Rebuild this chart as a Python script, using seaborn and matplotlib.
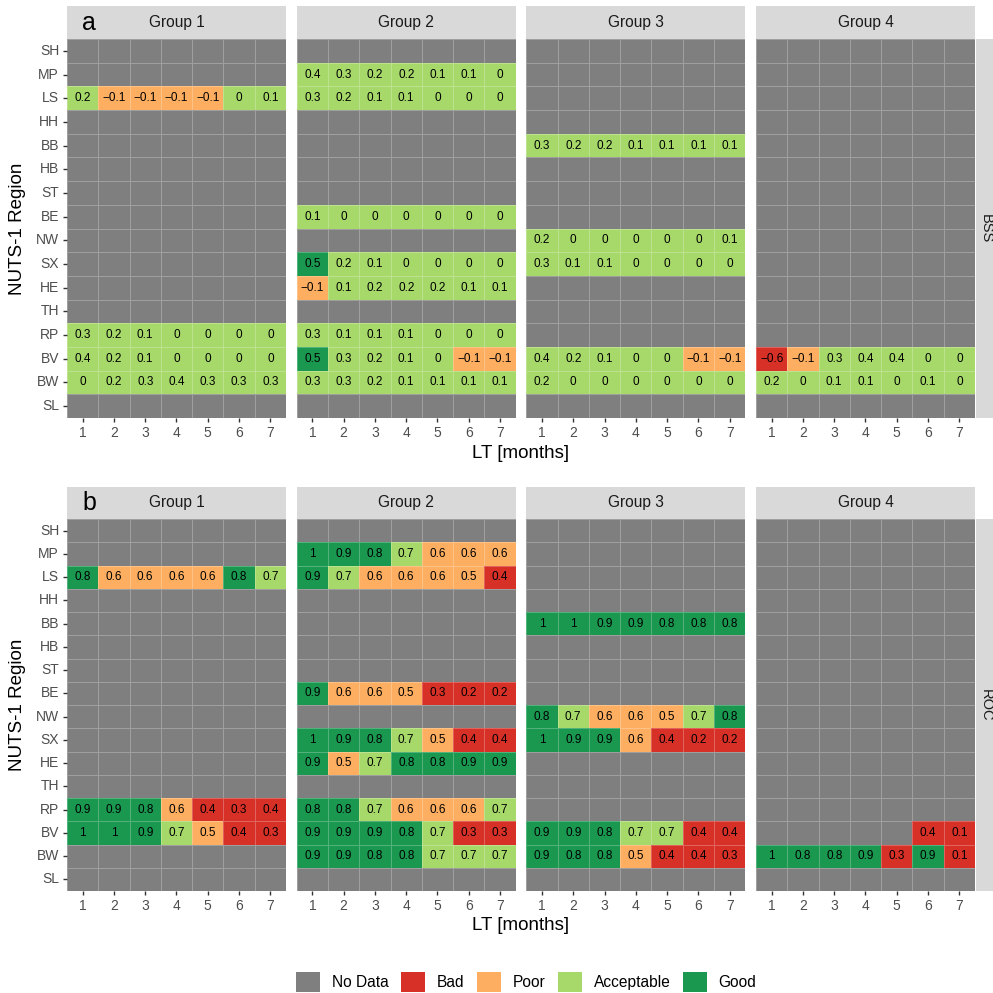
import numpy as np
import pandas as pd
import matplotlib
matplotlib.use("Agg")
import matplotlib.pyplot as plt
from matplotlib.colors import ListedColormap
from matplotlib.patches import Patch
import seaborn as sns

# ---------------- data ----------------
regions = ["SH", "MP", "LS", "HH", "BB", "HB", "ST", "BE", "NW", "SX", "HE", "TH", "RP", "BV", "BW", "SL"]
lead_times = [1, 2, 3, 4, 5, 6, 7]
groups = ["Group 1", "Group 2", "Group 3", "Group 4"]
metrics = ["BSS", "ROC"]
panel_tags = ["a", "b"]
categories = ["No Data", "Bad", "Poor", "Acceptable", "Good"]
cat_colors = ["#7F7F7F", "#D73027", "#FDAE61", "#A6D96A", "#1A9850"]
nan = np.nan

bss_group1 = {
    "LS": [0.2, -0.1, -0.1, -0.1, -0.1, 0, 0.1],
    "RP": [0.3, 0.2, 0.1, 0, 0, 0, 0],
    "BV": [0.4, 0.2, 0.1, 0, 0, 0, 0],
    "BW": [0, 0.2, 0.3, 0.4, 0.3, 0.3, 0.3],
}
bss_group2 = {
    "MP": [0.4, 0.3, 0.2, 0.2, 0.1, 0.1, 0],
    "LS": [0.3, 0.2, 0.1, 0.1, 0, 0, 0],
    "BE": [0.1, 0, 0, 0, 0, 0, 0],
    "SX": [0.5, 0.2, 0.1, 0, 0, 0, 0],
    "HE": [-0.1, 0.1, 0.2, 0.2, 0.2, 0.1, 0.1],
    "RP": [0.3, 0.1, 0.1, 0.1, 0, 0, 0],
    "BV": [0.5, 0.3, 0.2, 0.1, 0, -0.1, -0.1],
    "BW": [0.3, 0.3, 0.2, 0.1, 0.1, 0.1, 0.1],
}
bss_group3 = {
    "BB": [0.3, 0.2, 0.2, 0.1, 0.1, 0.1, 0.1],
    "NW": [0.2, 0, 0, 0, 0, 0, 0.1],
    "SX": [0.3, 0.1, 0.1, 0, 0, 0, 0],
    "BV": [0.4, 0.2, 0.1, 0, 0, -0.1, -0.1],
    "BW": [0.2, 0, 0, 0, 0, 0, 0],
}
bss_group4 = {
    "BV": [-0.6, -0.1, 0.3, 0.4, 0.4, 0, 0],
    "BW": [0.2, 0, 0.1, 0.1, 0, 0.1, 0],
}
roc_group1 = {
    "LS": [0.8, 0.6, 0.6, 0.6, 0.6, 0.8, 0.7],
    "RP": [0.9, 0.9, 0.8, 0.6, 0.4, 0.3, 0.4],
    "BV": [1, 1, 0.9, 0.7, 0.5, 0.4, 0.3],
}
roc_group2 = {
    "MP": [1, 0.9, 0.8, 0.7, 0.6, 0.6, 0.6],
    "LS": [0.9, 0.7, 0.6, 0.6, 0.6, 0.5, 0.4],
    "BE": [0.9, 0.6, 0.6, 0.5, 0.3, 0.2, 0.2],
    "SX": [1, 0.9, 0.8, 0.7, 0.5, 0.4, 0.4],
    "HE": [0.9, 0.5, 0.7, 0.8, 0.8, 0.9, 0.9],
    "RP": [0.8, 0.8, 0.7, 0.6, 0.6, 0.6, 0.7],
    "BV": [0.9, 0.9, 0.9, 0.8, 0.7, 0.3, 0.3],
    "BW": [0.9, 0.9, 0.8, 0.8, 0.7, 0.7, 0.7],
}
roc_group3 = {
    "BB": [1, 1, 0.9, 0.9, 0.8, 0.8, 0.8],
    "NW": [0.8, 0.7, 0.6, 0.6, 0.5, 0.7, 0.8],
    "SX": [1, 0.9, 0.9, 0.6, 0.4, 0.2, 0.2],
    "BV": [0.9, 0.9, 0.8, 0.7, 0.7, 0.4, 0.4],
    "BW": [0.9, 0.8, 0.8, 0.5, 0.4, 0.4, 0.3],
}
roc_group4 = {
    "BV": [nan, nan, nan, nan, nan, 0.4, 0.1],
    "BW": [1, 0.8, 0.8, 0.9, 0.3, 0.9, 0.1],
}
panels = {
    "BSS": [bss_group1, bss_group2, bss_group3, bss_group4],
    "ROC": [roc_group1, roc_group2, roc_group3, roc_group4],
}


def classify(metric, v):
    if np.isnan(v):
        return 0
    v = round(v, 2)
    if metric == "BSS":
        if v <= -0.5:
            return 1
        if v < 0:
            return 2
        if v < 0.5:
            return 3
        return 4
    else:
        if v < 0.5:
            return 1
        if v < 0.7:
            return 2
        if v < 0.8:
            return 3
        return 4


def fmt(v):
    if np.isnan(v):
        return ""
    s = f"{v:.1f}".rstrip("0").rstrip(".")
    if s in ("-0", ""):
        s = "0"
    return s.replace("-", "\u2212")


# ---------------- figure ----------------
W = H = 993
fig = plt.figure(figsize=(W / 100, H / 100), dpi=100)
plt.rcParams["font.family"] = ["Liberation Sans", "DejaVu Sans"]


def px(l, t, w, h):
    return [l / W, 1 - (t + h) / H, w / W, h / H]


lefts = [67, 296.7, 526.3, 756]
pw = 219
rows_geom = [  # (panel top, panel height, strip top, strip height)
    (39, 379, 6, 33),
    (519, 372, 487, 32),
]
cmap = ListedColormap(cat_colors)
strip_bg = "#D9D9D9"
tick_lab_col = "#4D4D4D"

for r, metric in enumerate(metrics):
    pt, ph, st, sh = rows_geom[r]
    for g, gname in enumerate(groups):
        data = panels[metric][g]
        vals = pd.DataFrame(np.nan, index=regions, columns=lead_times)
        for reg, lst in data.items():
            vals.loc[reg] = lst
        codes = vals.apply(lambda col: col.map(lambda v: classify(metric, v)))
        annot = vals.apply(lambda col: col.map(fmt)).values

        ax = fig.add_axes(px(lefts[g], pt, pw, ph))
        sns.heatmap(codes, ax=ax, cmap=cmap, vmin=-0.5, vmax=4.5, cbar=False,
                    annot=annot, fmt="", linewidths=0.6,
                    linecolor=(1, 1, 1, 0.25),
                    annot_kws={"color": "black", "fontsize": 8.5})
        ax.set_xticks(np.arange(len(lead_times)) + 0.5)
        ax.set_xticklabels([str(t) for t in lead_times], rotation=0)
        ax.set_xlabel("")
        ax.set_ylabel("")
        ax.tick_params(axis="both", length=3.2, width=1.0, color="#333333",
                       labelcolor=tick_lab_col, labelsize=10, pad=2.5)
        if g == 0:
            ax.set_yticks(np.arange(len(regions)) + 0.5)
            ax.set_yticklabels(regions, rotation=0)
        else:
            ax.set_yticks([])
        # top strip
        sax = fig.add_axes(px(lefts[g], st, pw, sh))
        sax.set_facecolor(strip_bg)
        sax.set_xticks([]); sax.set_yticks([])
        for s in sax.spines.values():
            s.set_visible(False)
        sax.text(0.5, 0.5, gname, ha="center", va="center", fontsize=11.2,
                 color="#1A1A1A", transform=sax.transAxes)
        if g == 0:
            sax.text(0.07, 0.5, panel_tags[r], ha="left", va="center",
                     fontsize=18, color="black", transform=sax.transAxes)
    # right strip (extends past the figure edge, as in the reference)
    rax = fig.add_axes(px(976, pt, 32, ph))
    rax.set_facecolor(strip_bg)
    rax.set_xticks([]); rax.set_yticks([])
    for s in rax.spines.values():
        s.set_visible(False)
    fig.text(985.5 / W, 1 - (pt + ph / 2) / H, metric, ha="center", va="center",
             rotation=-90, fontsize=10.5, color="#1A1A1A")
    # axis titles
    fig.text(521 / W, 1 - (pt + ph + 35) / H, "LT [months]", ha="center",
             va="center", fontsize=13.5, color="black")
    fig.text(18 / W, 1 - (pt + ph / 2) / H, "NUTS-1 Region", ha="center",
             va="center", rotation=90, fontsize=13.5, color="black")

handles = [Patch(facecolor=c, edgecolor="none") for c in cat_colors]
fig.legend(handles, categories, loc="center", bbox_to_anchor=(0.530, 1 - 982 / H),
           ncol=5, frameon=False, fontsize=11.2, handlelength=1.55,
           handleheight=1.55, handletextpad=0.75, columnspacing=0.8)

fig.savefig("out.png", dpi=100)
